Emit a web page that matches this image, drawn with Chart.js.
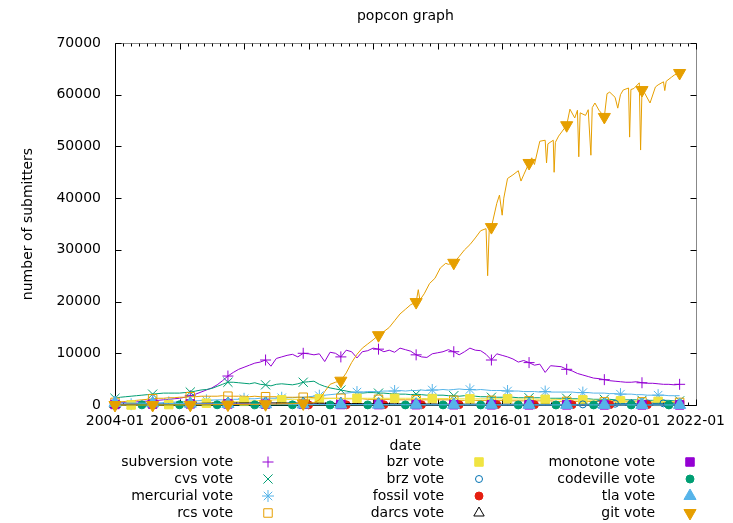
<!DOCTYPE html>
<html>
<head>
<meta charset="utf-8">
<title>popcon graph</title>
<script src="https://cdn.jsdelivr.net/npm/chart.js@4.4.1/dist/chart.umd.min.js"></script>
<style>
  body { margin: 0; background: #fff; }
  canvas { display: block; }
</style>
</head>
<body>
<canvas id="popcon" width="733" height="523"></canvas>
<script>
// bi-monthly sample dates as fractional years: 2004-01, 2004-03, ... 2021-07
const sampleYears = [];
for (let k = 0; k < 106; k++) sampleYears.push(2004 + k / 6);

// one row per year, six samples per row (last row: Jan..Jul 2021)
const subversionVotes = [
  400, 450, 500, 550, 600, 700,
  750, 800, 900, 1000, 1100, 1200,
  1300, 1500, 1800, 2100, 2500, 2900,
  3300, 3900, 4700, 5600, 6300, 6900,
  7300, 7700, 8100, 8300, 8700, 7500,
  9000, 9300, 9600, 9800, 9300, 10000,
  9900, 9700, 9900, 8400, 10200, 10000,
  9300, 10600, 10300, 9100, 10300, 10500,
  11000, 10800, 10300, 10600, 10200, 11000,
  10700, 10400, 9700, 9300, 9200, 9900,
  10100, 10300, 10700, 10300, 9700, 10300,
  11000, 10600, 10500, 9800, 8700, 9900,
  9600, 9300, 8900, 8300, 8600, 8200,
  7700, 7900, 6300, 7600, 7500, 7400,
  6900, 6600, 6100, 5800, 5500, 5200,
  5100, 4900, 4700, 4600, 4500, 4400,
  4400, 4500, 4300, 4200, 4200, 4100,
  4000, 4000, 3900, 4000
];
const cvsVotes = [
  1300, 1500, 1600, 1700, 1800, 1900,
  2000, 2100, 2200, 2300, 2300, 2300,
  2300, 2400, 2500, 2700, 2900, 3000,
  3200, 3600, 4000, 4400, 4400, 4300,
  4200, 4100, 4300, 4000, 3900, 3700,
  4000, 4100, 4000, 3900, 4100, 4400,
  4500, 4600, 4000, 3600, 3300, 3100,
  2900, 2700, 2500, 2400, 2300, 2400,
  2400, 2300, 2300, 2200, 2200, 2100,
  2100, 2000, 2100, 2000, 1900, 2000,
  1900, 1900, 1800, 1800, 1700, 1800,
  1700, 1700, 1600, 1600, 1500, 1500,
  1500, 1500, 1500, 1400, 1400, 1400,
  1400, 1400, 1300, 1300, 1300, 1300,
  1300, 1200, 1200, 1200, 1200, 1100,
  1100, 1100, 1100, 1000, 1000, 1000,
  1000, 1000, 900, 900, 900, 900,
  900, 900, 800, 800
];
const mercurialVotes = [
  100, 100, 150, 150, 200, 250,
  300, 350, 400, 450, 500, 550,
  600, 650, 700, 800, 850, 900,
  950, 1000, 1000, 1100, 1100, 1100,
  1200, 1200, 1200, 1300, 1300, 1300,
  1300, 1400, 1400, 1400, 1500, 1500,
  1600, 1700, 1800, 1900, 2000, 2100,
  2200, 2300, 2400, 2500, 2500, 2600,
  2600, 2600, 2700, 2700, 2700, 2800,
  2700, 2800, 2800, 2900, 2800, 2900,
  2900, 3000, 2900, 3000, 3100, 3000,
  3000, 2900, 3000, 2900, 2800, 2800,
  2800, 2700, 2700, 2700, 2600, 2600,
  2600, 2500, 2600, 2500, 2500, 2500,
  2500, 2500, 2400, 2400, 2400, 2300,
  2300, 2300, 2200, 2200, 2100, 2100,
  2100, 2000, 2000, 1900, 1900, 1900,
  1900, 1800, 1800, 1800
];
const rcsVotes = [
  500, 600, 700, 800, 900, 1000,
  1100, 1200, 1300, 1300, 1400, 1400,
  1500, 1500, 1600, 1600, 1700, 1700,
  1700, 1700, 1800, 1700, 1700, 1700,
  1700, 1600, 1700, 1600, 1600, 1600,
  1600, 1500, 1500, 1500, 1500, 1500,
  1500, 1400, 1400, 1300, 1300, 1300,
  1300, 1200, 1200, 1200, 1200, 1100,
  1100, 1100, 1100, 1100, 1000, 1000,
  1000, 1000, 1000, 1000, 1000, 1000,
  1000, 1000, 1000, 900, 900, 900,
  900, 900, 900, 900, 900, 900,
  900, 900, 800, 800, 800, 800,
  800, 800, 800, 800, 700, 700,
  700, 700, 700, 700, 700, 700,
  700, 600, 600, 600, 600, 600,
  600, 600, 600, 600, 500, 500,
  500, 500, 500, 500
];
const bzrVotes = [
  0, 0, 0, 0, 0, 0,
  0, 0, 20, 50, 80, 100,
  120, 150, 200, 250, 300, 350,
  400, 450, 500, 550, 600, 650,
  700, 750, 800, 850, 900, 950,
  1000, 1000, 1050, 1100, 1100, 1150,
  1150, 1200, 1200, 1200, 1250, 1250,
  1250, 1300, 1300, 1300, 1300, 1300,
  1300, 1300, 1300, 1300, 1300, 1300,
  1300, 1300, 1300, 1250, 1250, 1250,
  1250, 1250, 1250, 1250, 1200, 1200,
  1200, 1200, 1200, 1200, 1200, 1200,
  1200, 1200, 1150, 1150, 1150, 1150,
  1150, 1100, 1100, 1100, 1100, 1050,
  1050, 1000, 1000, 1000, 950, 950,
  900, 900, 850, 850, 800, 800,
  800, 750, 750, 700, 700, 700,
  650, 650, 650, 600
];
const brzVotes = [
  null, null, null, null, null, null,
  null, null, null, null, null, null,
  null, null, null, null, null, null,
  null, null, null, null, null, null,
  null, null, null, null, null, null,
  null, null, null, null, null, null,
  null, null, null, null, null, null,
  null, null, null, null, null, null,
  null, null, null, null, null, null,
  null, null, null, null, null, null,
  null, null, null, null, null, null,
  null, null, null, null, null, null,
  null, null, null, null, null, null,
  null, null, null, null, null, null,
  30, 60, 90, 120, 150, 170,
  190, 210, 230, 250, 260, 270,
  280, 290, 300, 300, 310, 320,
  320, 330, 330, 340
];
const fossilVotes = [
  null, null, null, null, null, null,
  null, null, null, null, null, null,
  null, null, null, null, null, null,
  null, null, null, null, null, null,
  null, null, null, null, null, null,
  null, null, null, 10, 15, 20,
  20, 25, 30, 30, 35, 35,
  40, 40, 40, 45, 45, 45,
  50, 50, 50, 50, 50, 50,
  50, 50, 55, 55, 55, 55,
  55, 55, 55, 55, 60, 60,
  60, 60, 60, 60, 60, 60,
  60, 60, 60, 60, 60, 60,
  60, 60, 55, 55, 55, 55,
  55, 55, 55, 55, 55, 55,
  50, 50, 50, 50, 50, 50,
  50, 50, 50, 50, 50, 50,
  50, 50, 50, 50
];
const darcsVotes = [
  100, 120, 140, 160, 180, 200,
  220, 240, 250, 260, 270, 280,
  290, 300, 310, 320, 330, 340,
  350, 360, 370, 380, 380, 390,
  390, 400, 400, 400, 400, 400,
  390, 390, 380, 380, 370, 370,
  360, 350, 340, 330, 320, 310,
  300, 290, 280, 270, 260, 250,
  250, 240, 230, 230, 220, 220,
  210, 210, 200, 200, 190, 190,
  180, 180, 170, 170, 170, 160,
  160, 160, 150, 150, 150, 140,
  140, 140, 140, 130, 130, 130,
  130, 120, 120, 120, 120, 110,
  110, 110, 110, 110, 100, 100,
  100, 100, 100, 100, 90, 90,
  90, 90, 90, 90, 80, 80,
  80, 80, 80, 80
];
const monotoneVotes = [
  100, 110, 120, 130, 140, 150,
  160, 170, 180, 190, 200, 200,
  210, 210, 220, 220, 220, 220,
  220, 220, 210, 210, 200, 200,
  190, 190, 180, 180, 170, 170,
  160, 160, 150, 150, 140, 140,
  130, 130, 120, 120, 110, 110,
  100, 100, 100, 90, 90, 90,
  80, 80, 80, 80, 70, 70,
  70, 70, 60, 60, 60, 60,
  60, 50, 50, 50, 50, 50,
  50, 50, 40, 40, 40, 40,
  40, 40, 40, 40, 30, 30,
  30, 30, 30, 30, 30, 30,
  30, 30, 30, 20, 20, 20,
  20, 20, 20, 20, 20, 20,
  20, 20, 20, 20, 20, 20,
  20, 20, 20, 20
];
const codevilleVotes = [
  10, 10, 20, 20, 20, 30,
  30, 30, 30, 40, 40, 40,
  40, 40, 40, 40, 40, 40,
  40, 40, 40, 30, 30, 30,
  30, 30, 30, 30, 30, 30,
  30, 30, 30, 30, 20, 20,
  20, 20, 20, 20, 20, 20,
  20, 20, 20, 20, 20, 20,
  20, 20, 20, 20, 20, 20,
  20, 20, 20, 20, 20, 20,
  20, 20, 20, 20, 20, 20,
  20, 20, 10, 10, 10, 10,
  10, 10, 10, 10, 10, 10,
  10, 10, 10, 10, 10, 10,
  10, 10, 10, 10, 10, 10,
  10, 10, 10, 10, 10, 10,
  10, 10, 10, 10, 10, 10,
  10, 10, 10, 10
];
const tlaVotes = [
  400, 400, 380, 370, 360, 350,
  340, 330, 320, 310, 300, 290,
  280, 270, 260, 250, 240, 230,
  220, 210, 200, 190, 180, 170,
  160, 150, 150, 140, 140, 130,
  130, 120, 120, 110, 110, 100,
  100, 100, 90, 90, 90, 80,
  80, 80, 80, 70, 70, 70,
  70, 60, 60, 60, 60, 60,
  50, 50, 50, 50, 50, 50,
  50, 40, 40, 40, 40, 40,
  40, 40, 40, 30, 30, 30,
  30, 30, 30, 30, 30, 30,
  30, 30, 20, 20, 20, 20,
  20, 20, 20, 20, 20, 20,
  20, 20, 20, 20, 20, 20,
  20, 20, 10, 10, 10, 10,
  10, 10, 10, 10
];

// git has its own dates so the one-day drops in the data can be kept
const gitYears = [
  2004.0, 2005.1667, 2006.3333, 2007.5, 2008.6667, 2009.8333,
  2010.1667, 2010.3333, 2010.5, 2010.6667, 2010.8333, 2011.0,
  2011.1667, 2011.3333, 2011.5, 2011.6667, 2011.8333, 2012.0,
  2012.1667, 2012.3333, 2012.5, 2012.6667, 2012.8333, 2013.0,
  2013.1667, 2013.3333, 2013.4, 2013.45, 2013.5833, 2013.75, 2013.9167,
  2014.0833, 2014.25, 2014.3333, 2014.5, 2014.6667, 2014.8333,
  2015.0, 2015.1667, 2015.3333, 2015.5, 2015.55, 2015.6, 2015.6667,
  2015.8333, 2015.9167, 2016.0, 2016.05, 2016.1667, 2016.3333,
  2016.5, 2016.5833, 2016.6667, 2016.8333, 2016.9167, 2017.0,
  2017.1667, 2017.3333, 2017.375, 2017.4167, 2017.5833, 2017.61, 2017.65, 2017.75,
  2018.0, 2018.1, 2018.25, 2018.3333, 2018.375, 2018.4167, 2018.5833,
  2018.6667, 2018.75, 2018.7917, 2018.875, 2019.0, 2019.1667,
  2019.25, 2019.3333, 2019.5, 2019.5833, 2019.6667, 2019.75,
  2019.9167, 2019.95, 2019.99, 2020.0833, 2020.25, 2020.29, 2020.3333,
  2020.4167, 2020.5833, 2020.75, 2020.8333, 2021.0, 2021.04,
  2021.0833, 2021.25, 2021.3333, 2021.5
];
const gitVotes = [
  0, 0, 30, 80, 150, 300,
  450, 1000, 2600, 4000, 4400, 4700,
  6200, 8200, 9800, 11000, 11800, 12600,
  13500, 14200, 15000, 16300, 17600, 18500,
  19400, 19900, 22300, 20300, 21500, 23500, 24500,
  26500, 27400, 27200, 27500, 28700, 30000,
  31000, 32300, 33700, 34100, 25000, 34200, 34400,
  39000, 40600, 36700, 40000, 43800, 44500,
  45300, 43300, 44500, 46800, 47800, 46500,
  51000, 51200, 46800, 50500, 51200, 45000, 50800, 52000,
  54100, 57200, 55500, 57000, 48000, 56500, 56000,
  57100, 48300, 57500, 58400, 57000, 55700,
  60200, 60500, 59500, 57400, 60000, 60900,
  61300, 51800, 61000, 61200, 62300, 49300, 60900,
  60300, 58400, 61500, 61900, 62500, 60800,
  62600, 63400, 63800, 64200
];

const yTicks = { min: 0, max: 70000, step: 10000 };
const xTicks = { min: 2004, max: 2022, step: 2 };

const FONT = 'DejaVu Sans';

// label, data, and gnuplot-like style for each series
const series = [
  { label: 'subversion vote', years: sampleYears, votes: subversionVotes, color: '#9400D3', style: 'cross', r: 5.5, fill: true, off: 0, every: 7 },
  { label: 'cvs vote', years: sampleYears, votes: cvsVotes, color: '#009E73', style: 'crossRot', r: 6.5, fill: true, off: 0, every: 7 },
  { label: 'mercurial vote', years: sampleYears, votes: mercurialVotes, color: '#56B4E9', style: 'star', r: 6, fill: true, off: 3, every: 7 },
  { label: 'rcs vote', years: sampleYears, votes: rcsVotes, color: '#E69F00', style: 'rect', r: 6, fill: false, off: 0, every: 7 },
  { label: 'bzr vote', years: sampleYears, votes: bzrVotes, color: '#F0E442', style: 'rect', r: 6, fill: true, off: 3, every: 7 },
  { label: 'brz vote', years: sampleYears, votes: brzVotes, color: '#0072B2', style: 'circle', r: 3.5, fill: false, off: 0, every: 3 },
  { label: 'fossil vote', years: sampleYears, votes: fossilVotes, color: '#E51E10', style: 'circle', r: 4, fill: true, off: 1, every: 7 },
  { label: 'darcs vote', years: sampleYears, votes: darcsVotes, color: '#000000', style: 'triangle', r: 6, fill: false, off: 0, every: 7 },
  { label: 'monotone vote', years: sampleYears, votes: monotoneVotes, color: '#9400D3', style: 'rect', r: 6, fill: true, off: 0, every: 7 },
  { label: 'codeville vote', years: sampleYears, votes: codevilleVotes, color: '#009E73', style: 'circle', r: 4, fill: true, off: 5, every: 7 },
  { label: 'tla vote', years: sampleYears, votes: tlaVotes, color: '#56B4E9', style: 'triangle', r: 7, fill: true, off: 0, every: 7 },
  { label: 'git vote', years: gitYears, votes: gitVotes, color: '#E69F00', style: 'triangle', r: 7, fill: true, off: 0, every: 7, rot: 180 }
];

// points are drawn only on every n-th bi-monthly sample (like gnuplot pointinterval)
function markerRadius(s) {
  return (ctx) => {
    const p = ctx.raw;
    if (!p || p.y == null) return 0;
    const k = Math.round((p.x - 2004) * 6);
    if (Math.abs(p.x - (2004 + k / 6)) > 0.002) return 0;
    return (k >= s.off && (k - s.off) % s.every === 0) ? s.r : 0;
  };
}

const frame = {
  id: 'frame',
  beforeDatasetsDraw(chart) {
    const { ctx, chartArea: a, scales: { x, y } } = chart;
    const L = Math.round(a.left) + 0.5, R = Math.round(a.right) + 0.5;
    const T = Math.round(a.top) + 0.5, B = Math.round(a.bottom) + 0.5;
    ctx.save();
    ctx.lineWidth = 1;
    // top and right border come out grey in the original, left and bottom black
    ctx.strokeStyle = '#888';
    ctx.beginPath();
    ctx.moveTo(L, T); ctx.lineTo(R, T); ctx.lineTo(R, B);
    ctx.stroke();
    ctx.strokeStyle = '#000';
    ctx.beginPath();
    ctx.moveTo(L, T); ctx.lineTo(L, B); ctx.lineTo(R, B);
    // x ticks: majors every 2 years, minors every quarter, inward on top and bottom
    for (let q = 0; q <= (xTicks.max - xTicks.min) * 4; q++) {
      const yr = xTicks.min + q / 4;
      const px = Math.round(x.getPixelForValue(yr)) + 0.5;
      const len = (q % (xTicks.step * 4) === 0) ? 6 : 3;
      ctx.moveTo(px, B); ctx.lineTo(px, B - len);
      ctx.moveTo(px, T); ctx.lineTo(px, T + len);
    }
    for (let v = yTicks.min; v <= yTicks.max; v += yTicks.step) {
      const py = Math.round(y.getPixelForValue(v)) + 0.5;
      ctx.moveTo(L, py); ctx.lineTo(L + 6, py);
      ctx.moveTo(R, py); ctx.lineTo(R - 6, py);
    }
    ctx.stroke();
    ctx.restore();
  },
  afterDraw(chart) {
    const { ctx, chartArea: a } = chart;
    const cx = (a.left + a.right) / 2;
    ctx.save();
    ctx.fillStyle = '#000';
    ctx.font = '14px "' + FONT + '"';
    ctx.textAlign = 'center';
    ctx.textBaseline = 'middle';
    ctx.fillText('popcon graph', cx, 16);
    ctx.fillText('date', cx, 446);
    ctx.save();
    ctx.translate(28, (a.top + a.bottom) / 2);
    ctx.rotate(-Math.PI / 2);
    ctx.fillText('number of submitters', 0, 0);
    ctx.restore();

    // legend: three columns of four, text right-aligned then the marker
    const colRight = [233, 444, 655];
    ctx.textAlign = 'right';
    series.forEach((s, i) => {
      const col = Math.floor(i / 4), row = i % 4;
      const ly = 462 + row * 17;
      ctx.fillStyle = '#000';
      ctx.fillText(s.label, colRight[col], ly);
      ctx.strokeStyle = s.color;
      ctx.fillStyle = s.fill ? s.color : 'rgba(0,0,0,0)';
      ctx.lineWidth = 1;
      Chart.helpers.drawPoint(ctx, { pointStyle: s.style, radius: s.r, borderWidth: 1, rotation: s.rot || 0 },
        colRight[col] + 35, ly);
    });
    ctx.restore();
  }
};

const tickFont = { family: FONT, size: 14 };

new Chart(document.getElementById('popcon'), {
  type: 'line',
  data: {
    datasets: series.map((s, i) => ({
      label: s.label,
      data: s.years.map((yr, j) => ({ x: yr, y: s.votes[j] })),
      borderColor: s.color,
      backgroundColor: s.color,
      borderWidth: 1,
      tension: 0,
      fill: false,
      clip: false,
      order: series.length - i,
      pointStyle: s.style,
      pointRotation: s.rot || 0,
      pointRadius: markerRadius(s),
      pointBorderWidth: 1,
      pointBorderColor: s.color,
      pointBackgroundColor: s.fill ? s.color : 'rgba(0,0,0,0)'
    }))
  },
  options: {
    responsive: false,
    animation: false,
    events: [],
    devicePixelRatio: 1,
    layout: { padding: { top: 43, right: 36, left: 0, bottom: 0 } },
    plugins: {
      legend: { display: false },
      tooltip: { enabled: false },
      title: { display: false }
    },
    scales: {
      x: {
        type: 'linear',
        min: xTicks.min,
        max: xTicks.max,
        grid: { display: false, drawTicks: false },
        border: { display: false },
        ticks: {
          stepSize: xTicks.step, autoSkip: false, maxRotation: 0, padding: 8,
          color: '#000', font: tickFont,
          callback: v => v + '-01'
        },
        afterFit: s => { s.height = 118; }
      },
      y: {
        type: 'linear',
        min: yTicks.min,
        max: yTicks.max,
        grid: { display: false, drawTicks: false },
        border: { display: false },
        ticks: {
          stepSize: yTicks.step, padding: 14,
          color: '#000', font: tickFont,
          callback: v => String(v)
        },
        afterFit: s => { s.width = 115; }
      }
    }
  },
  plugins: [frame]
});
</script>
</body>
</html>
